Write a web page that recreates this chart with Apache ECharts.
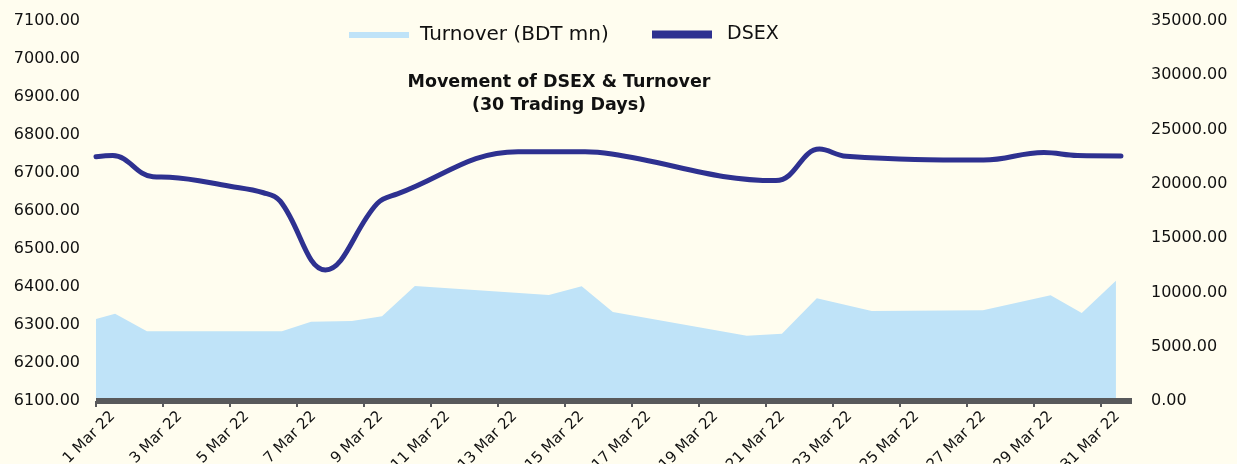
<!DOCTYPE html>
<html>
<head>
<meta charset="utf-8">
<title>Movement of DSEX &amp; Turnover</title>
<script src="https://cdn.jsdelivr.net/npm/echarts@6/dist/echarts.min.js"></script>
<style>
  html, body { margin: 0; padding: 0; background: #fffdef; }
  #chart { width: 1237px; height: 464px; }
</style>
</head>
<body>
<div id="chart"></div>
<script>
// day of March 2022 (position on the date axis) and turnover, BDT mn
const turnoverDays = [1, 1.57, 2.52, 6.55, 7.42, 8.64, 9.54, 10.52, 14.52, 15.5, 16.43, 20.43, 21.48, 22.52, 24.16, 27.48, 29.5, 30.43, 31.45];
const turnover = [7550, 8040, 6420, 6420, 7300, 7370, 7800, 10590, 9760, 10560, 8200, 6010, 6200, 9460, 8290, 8350, 9740, 8100, 11080];

// DSEX index
const dsexDays = [1, 1.5, 2.7, 3.2, 5.0, 6.0, 6.5, 7.85, 9.4, 10.0, 13.6, 15.6, 16.4, 21.3, 22.6, 23.4, 27.5, 29.3, 30.3, 31.6];
const dsex = [6743, 6746, 6690, 6689, 6665, 6648, 6626, 6445, 6620, 6645, 6756, 6756, 6750, 6680, 6763, 6744, 6734, 6754, 6746, 6745];

// tick labels: every second day
const tickDays = [1, 3, 5, 7, 9, 11, 13, 15, 17, 19, 21, 23, 25, 27, 29, 31];

const FONT = "DejaVu Sans";
const labelShift = 0.5; // rotated labels sit a bit right of their tick

const chart = echarts.init(document.getElementById("chart"));

const option = {
  backgroundColor: "#fffdef",
  animation: false,
  textStyle: { fontFamily: FONT },
  title: {
    text: "Movement of DSEX & Turnover\n(30 Trading Days)",
    left: 559,
    top: 71,
    padding: 0,
    textAlign: "center",
    textStyle: { fontFamily: FONT, fontSize: 17.5, fontWeight: "bold", lineHeight: 23, color: "#111" },
  },
  legend: [
    {
      left: 349,
      top: 25,
      padding: 0,
      selectedMode: false,
      itemWidth: 60,
      itemHeight: 6,
      data: [{ name: "Turnover (BDT mn)", icon: "rect", itemStyle: { color: "#bfe3f8" } }],
      textStyle: { fontFamily: FONT, fontSize: 20, color: "#111", padding: [0, 0, 0, 6] },
    },
    {
      left: 652,
      top: 25,
      padding: 0,
      selectedMode: false,
      itemWidth: 60,
      itemHeight: 8,
      data: [{ name: "DSEX", icon: "rect", itemStyle: { color: "#2e3190" } }],
      textStyle: { fontFamily: FONT, fontSize: 19, color: "#111", padding: [0, 0, 0, 10] },
    },
  ],
  grid: { left: 96, right: 105, top: 21, bottom: 63, outerBoundsMode: "none", containLabel: false },
  xAxis: {
    type: "value",
    min: 1,
    max: 31.93,
    z: 5,
    splitLine: { show: false },
    axisLine: { show: true, onZero: false, lineStyle: { color: "#58595b", width: 6, cap: "butt" } },
    axisTick: {
      show: true,
      customValues: tickDays,
      length: 6,
      lineStyle: { color: "#58595b", width: 2 },
    },
    axisLabel: {
      customValues: tickDays.map((d) => d + labelShift),
      rotate: 45,
      margin: 13,
      fontSize: 15,
      color: "#111",
      fontFamily: FONT,
      formatter: (v) => Math.round(v - labelShift) + " Mar 22",
    },
  },
  yAxis: [
    {
      type: "value",
      position: "left",
      min: 6100,
      max: 7100,
      interval: 100,
      splitLine: { show: false },
      axisLine: { show: false },
      axisTick: { show: false },
      axisLabel: { fontSize: 16, color: "#111", margin: 16, fontFamily: FONT, formatter: (v) => v.toFixed(2) },
    },
    {
      type: "value",
      position: "right",
      min: 0,
      max: 35000,
      interval: 5000,
      splitLine: { show: false },
      axisLine: { show: false },
      axisTick: { show: false },
      axisLabel: { fontSize: 16, color: "#111", margin: 19, fontFamily: FONT, formatter: (v) => v.toFixed(2) },
    },
  ],
  series: [
    {
      name: "Turnover (BDT mn)",
      type: "line",
      yAxisIndex: 1,
      symbol: "none",
      lineStyle: { width: 0 },
      itemStyle: { color: "#bfe3f8" },
      areaStyle: { color: "#bfe3f8", opacity: 1 },
      data: turnoverDays.map((d, i) => [d, turnover[i]]),
      z: 1,
    },
    {
      name: "DSEX",
      type: "line",
      yAxisIndex: 0,
      symbol: "none",
      smooth: 0.4,
      itemStyle: { color: "#2e3190" },
      lineStyle: { color: "#2e3190", width: 5, cap: "round" },
      data: dsexDays.map((d, i) => [d, dsex[i]]),
      z: 3,
    },
  ],
};

chart.setOption(option);
window.addEventListener("resize", () => chart.resize());
</script>
</body>
</html>
